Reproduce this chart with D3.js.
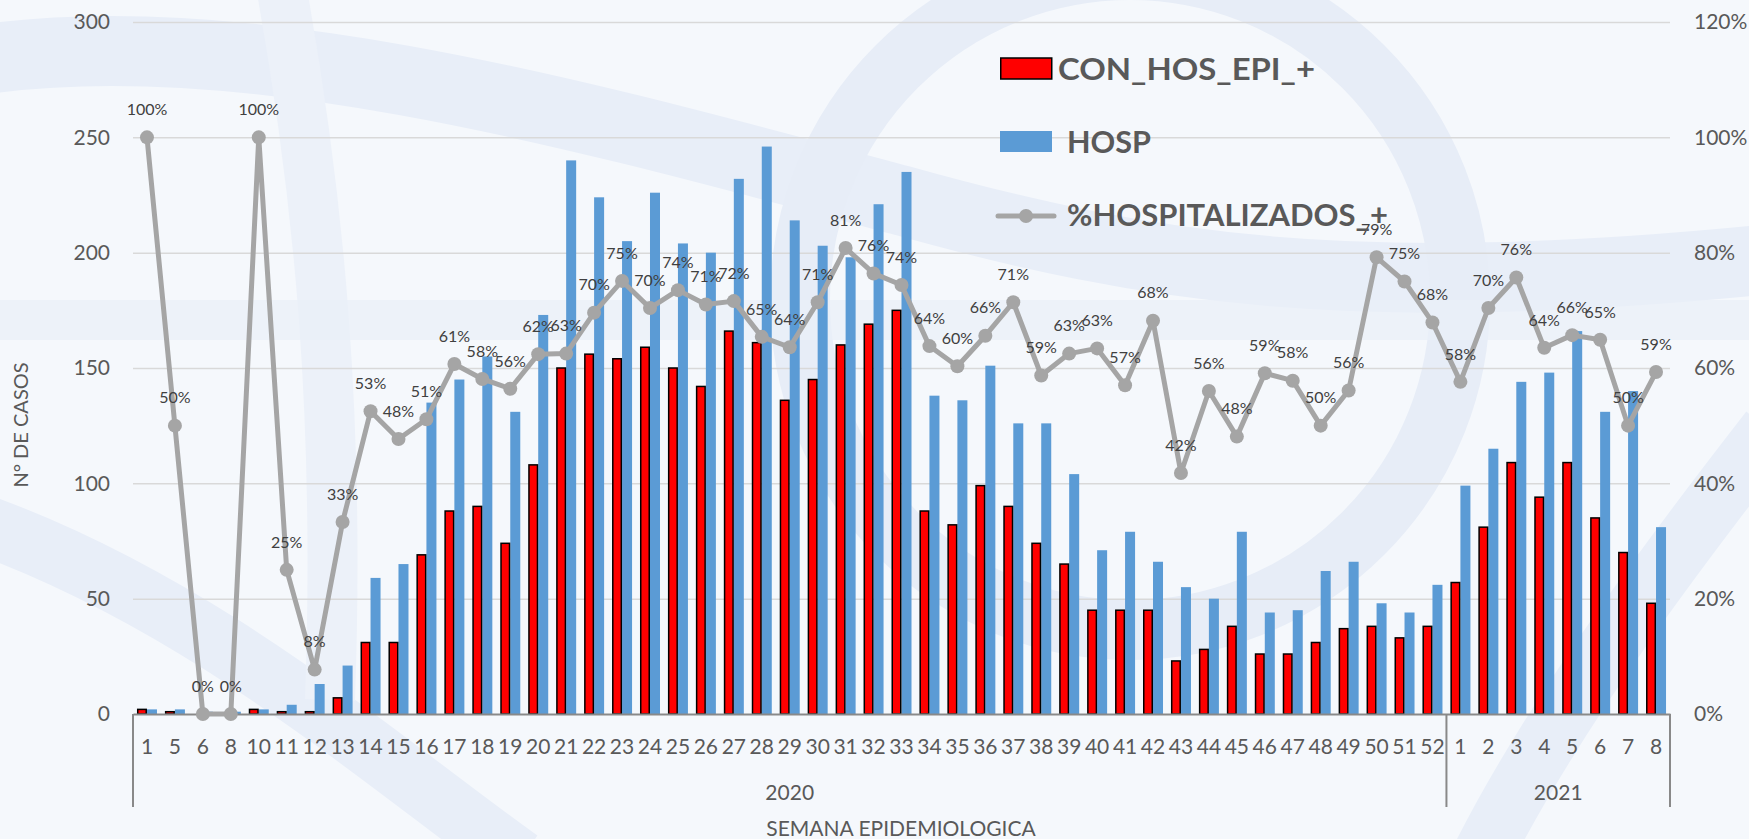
<!DOCTYPE html>
<html>
<head>
<meta charset="utf-8">
<script src="https://cdn.jsdelivr.net/npm/d3@7"></script>
<style>
  body { margin: 0; background: #ffffff; }
  svg { display: block; font-family: Lato, 'Open Sans', sans-serif; }
</style>
</head>
<body>
<svg></svg>
<script>
var weeks = ['1', '5', '6', '8', '10', '11', '12', '13', '14', '15', '16', '17', '18', '19', '20', '21', '22', '23', '24', '25',
  '26', '27', '28', '29', '30', '31', '32', '33', '34', '35', '36', '37', '38', '39', '40', '41', '42', '43', '44', '45',
  '46', '47', '48', '49', '50', '51', '52',
  '1', '2', '3', '4', '5', '6', '7', '8'];
var years = ['2020', '2021'];
var yearWeeks = [47, 8];

// CON_HOS_EPI_+
var conHos = [2, 1, 0, 0, 2, 1, 1, 7, 31, 31, 69, 88, 90, 74, 108, 150, 156, 154, 159, 150,
  142, 166, 161, 136, 145, 160, 169, 175, 88, 82, 99, 90, 74, 65, 45, 45, 45, 23, 28, 38,
  26, 26, 31, 37, 38, 33, 38,
  57, 81, 109, 94, 109, 85, 70, 48];
// HOSP
var hosp = [2, 2, 1, 1, 2, 4, 13, 21, 59, 65, 135, 145, 155, 131, 173, 240, 224, 205, 226, 204,
  200, 232, 246, 214, 203, 198, 221, 235, 138, 136, 151, 126, 126, 104, 71, 79, 66, 55, 50, 79,
  44, 45, 62, 66, 48, 44, 56,
  99, 115, 144, 148, 166, 131, 140, 81];
// %HOSPITALIZADOS_+
var pctHosp = [100, 50, 0, 0, 100, 25, 7.7, 33.3, 52.5, 47.7, 51.1, 60.7, 58.1, 56.4, 62.4, 62.5, 69.6, 75.1, 70.4, 73.5,
  71, 71.6, 65.4, 63.6, 71.4, 80.8, 76.4, 74.4, 63.8, 60.3, 65.6, 71.4, 58.7, 62.5, 63.4, 57, 68.2, 41.8, 56, 48.1,
  59.1, 57.8, 50, 56.1, 79.2, 75, 67.9,
  57.6, 70.4, 75.7, 63.5, 65.7, 64.9, 50, 59.3];

var leftTicks = [0, 50, 100, 150, 200, 250, 300];
var rightTicks = [0, 0.2, 0.4, 0.6, 0.8, 1.0, 1.2];
var legendNames = ['CON_HOS_EPI_+', 'HOSP', '%HOSPITALIZADOS_+'];

var width = 1749;
var height = 839;
var borders = { top: 22, right: 79, bottom: 125, left: 133 };
var textGray = '#595959';

var svg = d3.select('svg').attr('width', width).attr('height', height);

// faint watermark background
var bg = svg.append('g').attr('class', 'watermark');
bg.append('rect').attr('width', width).attr('height', height).attr('fill', '#f5f8fc');
bg.append('path')
  .attr('d', 'M-20,60 C250,20 600,120 900,200 C1150,270 1350,300 1760,260')
  .attr('fill', 'none').attr('stroke', '#e8eef8').attr('stroke-width', 70);
bg.append('circle').attr('cx', 1130).attr('cy', 300).attr('r', 330)
  .attr('fill', 'none').attr('stroke', '#e7edf7').attr('stroke-width', 60);
bg.append('path')
  .attr('d', 'M-30,520 C200,600 380,760 520,860')
  .attr('fill', 'none').attr('stroke', '#e8eef8').attr('stroke-width', 60);
bg.append('path')
  .attr('d', 'M280,-20 C320,200 340,420 330,700')
  .attr('fill', 'none').attr('stroke', '#ecf1f9').attr('stroke-width', 50);
bg.append('path')
  .attr('d', 'M1480,860 C1560,700 1700,520 1770,430')
  .attr('fill', 'none').attr('stroke', '#e8eef8').attr('stroke-width', 60);
bg.append('rect').attr('x', 0).attr('y', 300).attr('width', width).attr('height', 40)
  .attr('fill', '#e9eff8').attr('opacity', 0.7);

var xScale = d3.scaleBand()
  .domain(d3.range(weeks.length))
  .range([borders.left, width - borders.right])
  .paddingInner(0.284)
  .paddingOuter(0.142);

var xSub = d3.scaleBand()
  .domain(['con', 'hosp'])
  .range([0, xScale.bandwidth()]);

var yScale = d3.scaleLinear()
  .domain([0, 300])
  .range([height - borders.bottom, borders.top]);

var yPct = d3.scaleLinear()
  .domain([0, 1.2])
  .range([height - borders.bottom, borders.top]);

var plotW = width - borders.left - borders.right;

// gridlines + left labels
var leftAxis = svg.append('g')
  .attr('class', 'leftAxis')
  .attr('transform', 'translate(' + borders.left + ',0)')
  .call(d3.axisLeft(yScale).tickValues(leftTicks).tickSizeInner(-plotW).tickSizeOuter(0).tickPadding(23));
leftAxis.select('.domain').remove();
leftAxis.selectAll('line').attr('stroke', '#d9d9d9').attr('stroke-width', 1.5)
  .filter(function(d) { return d === 0; }).remove();
leftAxis.selectAll('text').attr('fill', textGray).attr('font-size', '21px').attr('font-family', 'Lato');

var rightAxis = svg.append('g')
  .attr('class', 'rightAxis')
  .attr('transform', 'translate(' + (width - borders.right) + ',0)')
  .call(d3.axisRight(yPct).tickValues(rightTicks).tickSize(0).tickPadding(24).tickFormat(d3.format('.0%')));
rightAxis.select('.domain').remove();
rightAxis.selectAll('text').attr('fill', textGray).attr('font-size', '21px').attr('font-family', 'Lato');

// bars
var groups = svg.append('g').attr('class', 'bars')
  .selectAll('g')
  .data(weeks)
  .enter()
  .append('g')
  .attr('transform', function(d, i) { return 'translate(' + xScale(i) + ',0)'; });

groups.append('rect')
  .attr('x', xSub('hosp'))
  .attr('width', xSub.bandwidth())
  .attr('y', function(d, i) { return yScale(hosp[i]); })
  .attr('height', function(d, i) { return yScale(0) - yScale(hosp[i]); })
  .attr('fill', '#5b9bd5');

groups.append('rect')
  .attr('x', xSub('con') + 0.75)
  .attr('width', xSub.bandwidth() - 1.5)
  .attr('y', function(d, i) { return yScale(conHos[i]); })
  .attr('height', function(d, i) { return yScale(0) - yScale(conHos[i]); })
  .attr('fill', '#ff0000')
  .attr('stroke', '#000000')
  .attr('stroke-width', 1.5);

// category axis
var bottomAxis = svg.append('g')
  .attr('class', 'bottomAxis')
  .attr('transform', 'translate(0,' + (height - borders.bottom) + ')')
  .call(d3.axisBottom(xScale).tickSize(0).tickPadding(25).tickFormat(function(i) { return weeks[i]; }));
bottomAxis.select('.domain').attr('stroke', '#898989').attr('stroke-width', 2);
bottomAxis.selectAll('text').attr('fill', textGray).attr('font-size', '21px').attr('font-family', 'Lato');

// year groups
var step = xScale.step();
var start = 0;
var bounds = [0];
yearWeeks.forEach(function(n) { start += n; bounds.push(start); });

svg.append('g').attr('class', 'yearLines')
  .selectAll('line')
  .data(bounds)
  .enter()
  .append('line')
  .attr('x1', function(b) { return borders.left + b * step; })
  .attr('x2', function(b) { return borders.left + b * step; })
  .attr('y1', height - borders.bottom)
  .attr('y2', height - borders.bottom + 93)
  .attr('stroke', '#898989')
  .attr('stroke-width', 2);

svg.append('g').attr('class', 'yearLabels')
  .selectAll('text')
  .data(years)
  .enter()
  .append('text')
  .attr('x', function(d, i) { return borders.left + (bounds[i] + bounds[i + 1]) / 2 * step; })
  .attr('y', height - borders.bottom + 78)
  .attr('dy', '0.36em')
  .attr('text-anchor', 'middle')
  .attr('fill', textGray)
  .attr('font-size', '21px')
  .text(function(d) { return d; });

// % line
var cx = function(i) { return xScale(i) + xScale.bandwidth() / 2; };
var line = d3.line()
  .x(function(d, i) { return cx(i); })
  .y(function(d) { return yPct(d / 100); });

svg.append('path')
  .datum(pctHosp)
  .attr('d', line)
  .attr('fill', 'none')
  .attr('stroke', '#a5a5a5')
  .attr('stroke-width', 5)
  .attr('stroke-linejoin', 'round');

svg.append('g').attr('class', 'markers')
  .selectAll('circle')
  .data(pctHosp)
  .enter()
  .append('circle')
  .attr('cx', function(d, i) { return cx(i); })
  .attr('cy', function(d) { return yPct(d / 100); })
  .attr('r', 7)
  .attr('fill', '#a5a5a5');

svg.append('g').attr('class', 'pctLabels')
  .selectAll('text')
  .data(pctHosp)
  .enter()
  .append('text')
  .attr('x', function(d, i) { return cx(i); })
  .attr('y', function(d) { return yPct(d / 100) - 28; })
  .attr('dy', '0.36em')
  .attr('text-anchor', 'middle')
  .attr('fill', '#404040')
  .attr('font-size', '16px')
  .text(function(d) { return Math.round(d) + '%'; });

// axis titles
svg.append('text')
  .attr('class', 'leftAxisTitle')
  .text('N° DE CASOS')
  .attr('text-anchor', 'middle')
  .attr('fill', textGray)
  .attr('font-size', '20px')
  .attr('dy', '0.36em')
  .attr('transform', 'translate(21,425)rotate(-90)');

svg.append('text')
  .attr('class', 'bottomAxisTitle')
  .text('SEMANA EPIDEMIOLOGICA')
  .attr('text-anchor', 'middle')
  .attr('fill', textGray)
  .attr('font-size', '21px')
  .attr('x', 901)
  .attr('y', 836);

// legend
var legend = svg.append('g').attr('class', 'legend').attr('transform', 'translate(1000,0)');
legend.append('rect').attr('x', 0.75).attr('y', 58).attr('width', 51).attr('height', 21)
  .attr('fill', '#ff0000').attr('stroke', '#000').attr('stroke-width', 1.5);
legend.append('rect').attr('x', 0).attr('y', 131).attr('width', 52).attr('height', 21)
  .attr('fill', '#5b9bd5');
legend.append('line').attr('x1', -2).attr('x2', 54).attr('y1', 216).attr('y2', 216)
  .attr('stroke', '#a5a5a5').attr('stroke-width', 5).attr('stroke-linecap', 'round');
legend.append('circle').attr('cx', 26).attr('cy', 216).attr('r', 7).attr('fill', '#a5a5a5');

var legendX = [58, 67, 67];
var legendY = [69, 142, 215];
var legendLen = [257, 84, 321];
legend.selectAll('text.lt')
  .data(legendNames)
  .enter()
  .append('text')
  .attr('class', 'lt')
  .attr('x', function(d, i) { return legendX[i]; })
  .attr('y', function(d, i) { return legendY[i]; })
  .attr('dy', '0.36em')
  .attr('fill', textGray)
  .attr('font-size', '31px')
  .attr('font-weight', 'bold')
  .attr('textLength', function(d, i) { return legendLen[i]; })
  .attr('lengthAdjust', 'spacingAndGlyphs')
  .text(function(d) { return d; });
</script>
</body>
</html>
